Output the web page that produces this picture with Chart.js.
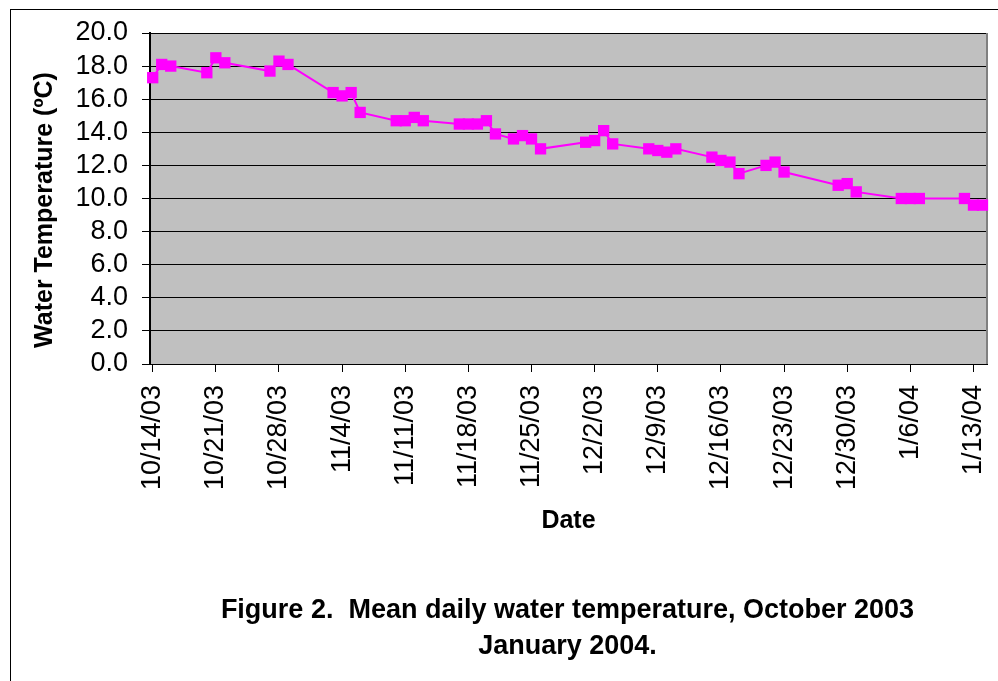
<!DOCTYPE html>
<html>
<head>
<meta charset="utf-8">
<script src="https://cdn.jsdelivr.net/npm/chart.js@4/dist/chart.umd.min.js"></script>
<style>
  html, body { margin: 0; padding: 0; background: #fff; }
  #wrap { position: relative; width: 998px; height: 681px; overflow: hidden; }
  #frame { position: absolute; left: 10px; top: 9px; width: 1100px; height: 800px;
           border-left: 1px solid #000; border-top: 1px solid #000; }
  canvas { position: absolute; left: 0; top: 0; }
  .cap { position: absolute; left: 0; width: 1135px; text-align: center; line-height: 30px;
         font: bold 27px "Liberation Sans", Arial, sans-serif; color: #000; white-space: pre; }
</style>
</head>
<body>
<div id="wrap">
  <div id="frame"></div>
  <canvas id="c" width="998" height="681"></canvas>
  <div class="cap" style="top:594px;">Figure 2.  Mean daily water temperature, October 2003</div>
  <div class="cap" style="top:630px;">January 2004.</div>
</div>
<script>
// ---- data ----
const dates = ["10/14/03","10/15/03","10/16/03","10/20/03","10/21/03","10/22/03",
  "10/27/03","10/28/03","10/29/03","11/3/03","11/4/03","11/5/03","11/6/03",
  "11/10/03","11/11/03","11/12/03","11/13/03","11/17/03","11/18/03","11/19/03",
  "11/20/03","11/21/03","11/23/03","11/24/03","11/25/03","11/26/03",
  "12/1/03","12/2/03","12/3/03","12/4/03","12/8/03","12/9/03","12/10/03","12/11/03",
  "12/15/03","12/16/03","12/17/03","12/18/03","12/21/03","12/22/03","12/23/03",
  "12/29/03","12/30/03","12/31/03","1/5/04","1/6/04","1/7/04","1/12/04","1/13/04","1/14/04"];
const temps = [17.3,18.1,18.0,17.6,18.5,18.2,
  17.7,18.3,18.1,16.4,16.2,16.4,15.2,
  14.7,14.7,14.9,14.7,14.5,14.5,14.5,
  14.7,13.9,13.6,13.8,13.6,13.0,
  13.4,13.5,14.1,13.3,13.0,12.9,12.8,13.0,
  12.5,12.3,12.2,11.5,12.0,12.2,11.6,
  10.8,10.9,10.4,10.0,10.0,10.0,10.0,9.6,9.6];
const tickLabels = ["10/14/03","10/21/03","10/28/03","11/4/03","11/11/03","11/18/03",
  "11/25/03","12/2/03","12/9/03","12/16/03","12/23/03","12/30/03","1/6/04","1/13/04"];
const yTicks = [0,2,4,6,8,10,12,14,16,18,20];
const yTitle = 'Water Temperature (ºC)';
const xTitle = 'Date';

// convert m/d/yy to day offset from the first date
function dayNum(s) {
  const [m, d, y] = s.split('/').map(Number);
  return Date.UTC(2000 + y, m - 1, d) / 86400000;
}
const base = dayNum(dates[0]);
const pts = dates.map((d, i) => ({ x: dayNum(d) - base, y: temps[i] }));
const tickDays = tickLabels.map(t => dayNum(t) - base);
const tickText = {};
tickDays.forEach((v, i) => tickText[v] = tickLabels[i]);

const FONT = '"Liberation Sans", Arial, sans-serif';

const plotBg = {
  id: 'plotBg',
  beforeDraw(chart) {
    const { ctx, chartArea: a } = chart;
    ctx.save();
    ctx.fillStyle = '#C0C0C0';
    ctx.fillRect(a.left, a.top, a.right - a.left, a.bottom - a.top);
    ctx.restore();
  },
  beforeDatasetsDraw(chart) {
    const { ctx, chartArea: a } = chart;
    ctx.save();
    ctx.strokeStyle = '#808080';
    ctx.lineWidth = 2;
    ctx.beginPath();
    ctx.moveTo(a.right, a.top); ctx.lineTo(a.right, a.bottom);
    ctx.stroke();
    ctx.restore();
  },
  afterDraw(chart) {
    // vertical axis title, centred where the reference places it
    const { ctx } = chart;
    ctx.save();
    ctx.translate(45, 210);
    ctx.rotate(-Math.PI / 2);
    ctx.fillStyle = '#000';
    ctx.font = 'bold 25px ' + FONT;
    ctx.textAlign = 'center';
    ctx.textBaseline = 'middle';
    ctx.fillText(yTitle, 0, 0);
    ctx.restore();
  }
};

new Chart(document.getElementById('c'), {
  type: 'line',
  data: {
    datasets: [{
      data: pts,
      borderColor: '#FF00FF',
      backgroundColor: '#FF00FF',
      borderWidth: 2,
      pointStyle: 'rect',
      pointRadius: 8,
      pointHoverRadius: 8,
      pointBorderWidth: 0,
      tension: 0,
      clip: false
    }]
  },
  options: {
    responsive: false,
    animation: false,
    layout: { padding: { left: 0, top: 33, right: 11, bottom: 145 } },
    plugins: { legend: { display: false }, tooltip: { enabled: false } },
    scales: {
      x: {
        type: 'linear',
        min: -0.3,
        max: 92.5,
        afterBuildTicks(scale) { scale.ticks = tickDays.map(v => ({ value: v })); },
        afterFit(scale) { scale.height = 172; scale.paddingLeft = 0; scale.paddingRight = 0; },
        ticks: {
          autoSkip: false,
          minRotation: 90,
          maxRotation: 90,
          padding: 13,
          color: '#000',
          font: { family: FONT, size: 27 },
          callback: v => tickText[v] || ''
        },
        grid: { drawOnChartArea: false, drawTicks: true, tickLength: 8, tickColor: '#000' },
        border: { color: '#000', width: 1 },
        title: {
          display: true, text: xTitle, color: '#000',
          font: { family: FONT, size: 25, weight: 'bold' },
          padding: { top: 0, bottom: 0 }
        }
      },
      y: {
        min: 0,
        max: 20,
        afterBuildTicks(scale) { scale.ticks = yTicks.map(v => ({ value: v })); },
        afterFit(scale) { scale.width = 150; scale.paddingTop = 0; scale.paddingBottom = 0; },
        ticks: {
          autoSkip: false,
          padding: 14,
          color: '#000',
          font: { family: FONT, size: 27 },
          callback: v => Number(v).toFixed(1)
        },
        grid: { color: '#000', lineWidth: 1, tickLength: 8, tickColor: '#000' },
        border: { color: '#000', width: 2 },
        title: { display: false }
      }
    }
  },
  plugins: [plotBg]
});
</script>
</body>
</html>
